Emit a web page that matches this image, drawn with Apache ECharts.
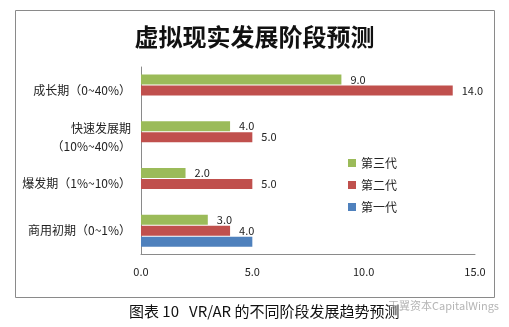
<!DOCTYPE html>
<html><head><meta charset="utf-8">
<script src="https://cdn.jsdelivr.net/npm/echarts@6/dist/echarts.min.js"></script>
<style>html,body{margin:0;padding:0;background:#fff}#c{width:509px;height:327px}</style>
</head><body><div id="c"></div>
<script>
const categories = ['商用初期（0~1%）', '爆发期（1%~10%）', '快速发展期\n（10%~40%）', '成长期（0~40%）'];
const gen1 = [5.0, null, null, null];
const gen2 = [4.0, 5.0, 5.0, 14.0];
const gen3 = [3.0, 2.0, 4.0, 9.0];
const seriesNames = ['第一代', '第二代', '第三代'];
const xTicks = [0, 5, 10, 15];

const chart = echarts.init(document.getElementById('c'), null, {renderer: 'canvas'});
const font = '"Noto Sans CJK SC", "Noto Sans", sans-serif';
const mk = (name, data, color, showLabel) => ({
  name, type: 'bar', data, barWidth: 10, barGap: '10%', barCategoryGap: '30%',
  itemStyle: {color},
  label: {show: showLabel, position: 'right', distance: 9, color: '#222', fontSize: 11, fontFamily: font,
    formatter: p => p.value == null ? '' : Number(p.value).toFixed(1)}
});
chart.setOption({
  animation: false,
  backgroundColor: '#fff',
  title: [
    {text: '虚拟现实发展阶段预测', left: 'center', top: 20,
     textStyle: {fontSize: 24, fontWeight: 'bold', color: '#111', fontFamily: font}},
    {text: '图表 10   VR/AR 的不同阶段发展趋势预测', left: 124, top: 299,
     textStyle: {fontSize: 15, fontWeight: 'normal', color: '#111', fontFamily: font}},
    {text: '天翼资本CapitalWings', left: 383, top: 295,
     textStyle: {fontSize: 11, fontWeight: 'normal', color: 'rgba(150,150,150,0.7)', fontFamily: font}}
  ],
  graphic: [{type: 'rect', shape: {x: 15.5, y: 10.5, width: 479, height: 287},
    style: {fill: 'none', stroke: '#8a8a8a', lineWidth: 1}, z: -1}],
  legend: {
    data: ['第三代', '第二代', '第一代'], orient: 'vertical', left: 343, top: 152,
    itemWidth: 8, itemHeight: 8, itemGap: 10, icon: 'rect',
    textStyle: {fontSize: 12, color: '#222', fontFamily: font}
  },
  grid: {left: 141, right: 34, top: 67, bottom: 73, containLabel: false},
  xAxis: {
    type: 'value', min: 0, max: 15, interval: 5,
    axisLine: {show: true, lineStyle: {color: '#8a8a8a'}},
    axisTick: {show: false}, splitLine: {show: false},
    axisLabel: {margin: 12, fontSize: 11, color: '#222', fontFamily: font,
      formatter: v => xTicks.includes(v) ? v.toFixed(1) : ''}
  },
  yAxis: {
    type: 'category', data: categories,
    axisLine: {show: true, lineStyle: {color: '#8a8a8a'}},
    axisTick: {show: false},
    axisLabel: {margin: 10, fontSize: 12, color: '#222', fontFamily: font, align: 'right', lineHeight: 18}
  },
  series: [mk(seriesNames[2], gen3, '#9BBB59', true), mk(seriesNames[1], gen2, '#C0504D', true), mk(seriesNames[0], gen1, '#4F81BD', false)]
});
</script></body></html>
